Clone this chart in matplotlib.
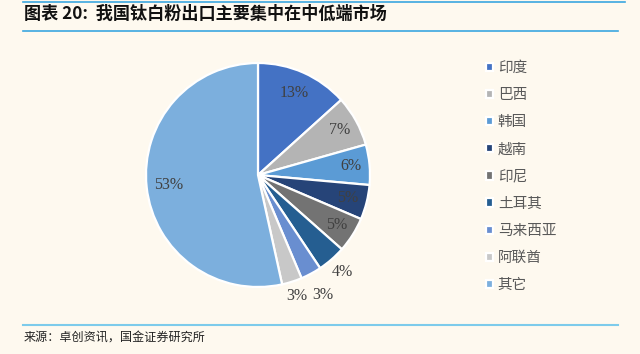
import matplotlib.pyplot as plt
import matplotlib.lines as mlines
import numpy as np

plt.rcParams['font.family'] = ['Noto Sans CJK SC', 'DejaVu Sans']

# data (share of export volume, %)
countries = ['印度', '巴西', '韩国', '越南', '印尼', '土耳其', '马来西亚', '阿联酋', '其它']
shares = [13.3, 7.3, 5.8, 5.0, 5.1, 4.1, 3.0, 2.9, 53.4]
labels = ['13%', '7%', '6%', '5%', '5%', '4%', '3%', '3%', '53%']
colors = ['#4472C4', '#B4B4B4', '#5B9BD5', '#264478', '#737373',
          '#255E91', '#698ED0', '#C8C8C8', '#7CAFDD']
# how far out each label sits (fraction of radius)
label_dist = [0.80, 0.83, 0.83, 0.83, 0.83, 1.15, 1.22, 1.13, 0.80]

BG = '#FEF9EF'
LINE = '#3BA7E0'

fig = plt.figure(figsize=(6.4, 3.54), dpi=100, facecolor=BG)

# title and rules
fig.add_artist(mlines.Line2D([23/640, 625/640], [1 - 1.5/354, 1 - 1.5/354], color=LINE, lw=1.2))
fig.add_artist(mlines.Line2D([23/640, 618/640], [1 - 31/354, 1 - 31/354], color=LINE, lw=1.2))
fig.add_artist(mlines.Line2D([23/640, 618/640], [1 - 325/354, 1 - 325/354], color='#7DCBEB', lw=1.5))
fig.text(24/640, 1 - 14/354, '图表 20:  我国钛白粉出口主要集中在中低端市场', fontsize=12.3,
         fontweight='bold', style='italic', va='center', ha='left', color='#111111')
fig.text(24/640, 1 - 337/354, '来源：卓创资讯，国金证券研究所', fontsize=8.7,
         va='center', ha='left', color='#222222')

# pie
ax = fig.add_axes([118/640, 39/354, 280/640, 280/354])
ax.set_facecolor(BG)
wedges, _ = ax.pie(shares, colors=colors, startangle=90, counterclock=False,
                   wedgeprops=dict(edgecolor='white', linewidth=1.6))
ax.set_xlim(-1.25, 1.25)
ax.set_ylim(-1.25, 1.25)
ax.set_aspect('equal')

for w, lab, d in zip(wedges, labels, label_dist):
    ang = np.deg2rad((w.theta1 + w.theta2) / 2)
    ax.text(d * np.cos(ang), d * np.sin(ang), lab, ha='center', va='center',
            fontsize=11.5, color='#404040', family='Liberation Serif')

# legend
leg = fig.legend(wedges, countries, loc='upper left', bbox_to_anchor=(473/640, 1 - 48/354),
                 frameon=False, fontsize=10.5, labelcolor='#595959', handlelength=0.5,
                 handleheight=0.5, handletextpad=0.3, labelspacing=0.9)
for h in leg.legend_handles:
    h.set_edgecolor('white')

fig.savefig('out.png', dpi=100, facecolor=BG)
